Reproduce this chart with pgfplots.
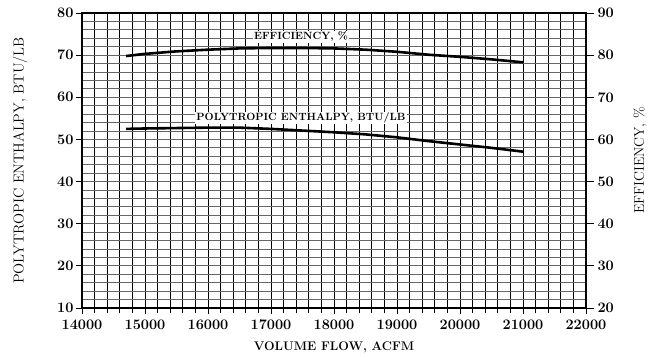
\documentclass[border=0pt]{standalone}
\usepackage{fontspec}
\usepackage{pgfplots}
\pgfplotsset{compat=1.18}
\pgfplotstableread{
x y
14700 52.5
15000 52.6
15500 52.7
16000 52.8
16500 52.8
17000 52.5
17500 52.1
18000 51.7
18500 51.2
19000 50.5
19500 49.6
20000 48.8
20500 48.0
21000 47.1
}\enthalpy
\pgfplotstableread{
x y
14700 79.8
15000 80.3
15500 80.9
16000 81.3
16500 81.6
17000 81.7
17500 81.7
18000 81.6
18500 81.3
19000 80.8
19500 80.1
20000 79.6
20500 79.0
21000 78.3
}\efficiency
\begin{document}
\begin{tikzpicture}
\begin{axis}[name=ax, at={(0,0)}, anchor=south west,
  scale only axis, width=504pt, height=295pt,
  xmin=14000, xmax=22000, ymin=10, ymax=80,
  xtick={14000,15000,...,22000}, minor x tick num=4,
  ytick={10,20,...,80}, minor y tick num=4,
  xtick pos=bottom, ytick pos=left,
  grid=both,
  major x grid style={black, line width=0.9pt},
  minor x grid style={black, line width=0.9pt},
  major y grid style={black!60, line width=1pt},
  minor y grid style={black!60, line width=1pt},
  axis line style={line width=1.8pt},
  tick style={black, line width=0.9pt},
  minor y tick style={draw=none},
  tick align=outside, major tick length=6pt, minor tick length=5pt,
  scaled x ticks=false,
  /pgf/number format/assume math mode=true,
  xticklabel style={/pgf/number format/1000 sep={}, yshift=-2pt},
  ticklabel style={font=\bfseries\fontsize{14.5}{16}\selectfont},
  yticklabel style={xshift=1pt},
  xlabel={VOLUME FLOW, ACFM},
  ylabel={POLYTROPIC ENTHALPY, BTU/LB},
  xlabel style={at={(axis description cs:0.5,-0.132)}, anchor=center, font=\bfseries\fontsize{12.5}{14}\selectfont},
  ylabel style={at={(axis description cs:-0.123,0.5)}, anchor=center, font=\fontsize{14.5}{16}\selectfont},
]
\addplot[black, line width=2.6pt] table[x=x,y=y] {\enthalpy};
\node[fill=white, inner sep=1pt, font=\bfseries\fontsize{10.5}{12}\selectfont] at (axis cs:17476,55.1) {POLYTROPIC ENTHALPY, BTU/LB};
\node[fill=white, inner sep=1pt, font=\bfseries\fontsize{10.5}{12}\selectfont] at (axis cs:17476,74.4) {EFFICIENCY, \%};
\end{axis}
\begin{axis}[at={(0,0)}, anchor=south west,
  scale only axis, width=504pt, height=295pt,
  xmin=14000, xmax=22000, ymin=20, ymax=90,
  axis x line=none, axis y line*=right,
  ytick={20,30,...,90},
  axis line style={line width=2.4pt},
  tick style={black, line width=0.9pt},
  tick align=outside, major tick length=8pt,
  /pgf/number format/assume math mode=true,
  ticklabel style={font=\bfseries\fontsize{14.5}{16}\selectfont},
  ylabel={EFFICIENCY, \%},
  ylabel style={at={(axis description cs:1.107,0.5)}, anchor=center, rotate=0, font=\fontsize{14}{16}\selectfont},
]
\addplot[black, line width=2.6pt] table[x=x,y=y] {\efficiency};
\end{axis}
\pgfresetboundingbox
\path[use as bounding box] (-82pt,-49pt) rectangle (577pt,308pt);
\end{tikzpicture}
\end{document}
